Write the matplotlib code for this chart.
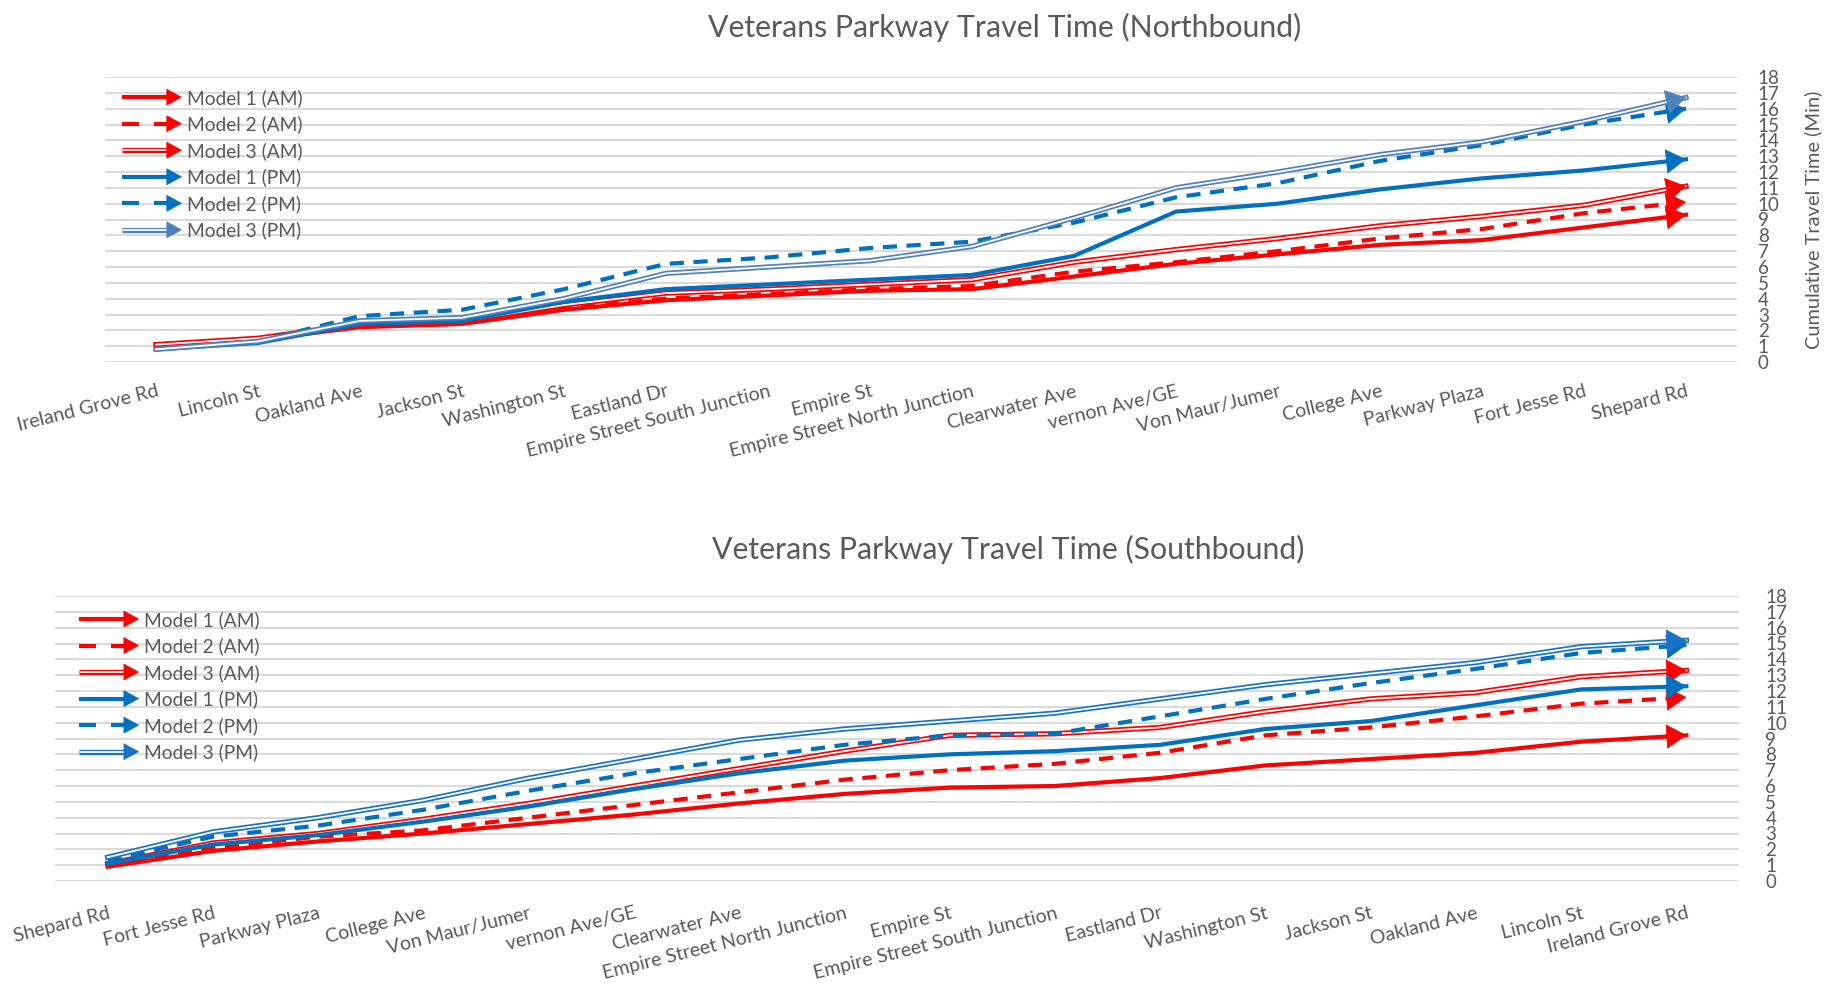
import matplotlib
matplotlib.use('Agg')
import matplotlib.pyplot as plt
from matplotlib.lines import Line2D
from matplotlib.patches import Polygon
from matplotlib.legend_handler import HandlerBase

plt.rcParams['font.family'] = ['Lato', 'DejaVu Sans']

RED = '#ff0000'
BLUE = '#0070c0'
TEXT = '#595959'
GRID = '#d9d9d9'

# Northbound: cumulative travel time (min) at each stop
nb_stops = ['Ireland Grove Rd', 'Lincoln St', 'Oakland Ave', 'Jackson St', 'Washington St',
            'Eastland Dr', 'Empire Street South Junction', 'Empire St',
            'Empire Street North Junction', 'Clearwater Ave', 'vernon Ave/GE',
            'Von Maur/Jumer', 'College Ave', 'Parkway Plaza', 'Fort Jesse Rd', 'Shepard Rd']
nb_m1_am = [1.0, 1.4, 2.2, 2.4, 3.3, 3.9, 4.2, 4.5, 4.6, 5.4, 6.2, 6.8, 7.4, 7.7, 8.5, 9.3]
nb_m2_am = [1.0, 1.4, 2.3, 2.5, 3.4, 4.0, 4.3, 4.6, 4.8, 5.7, 6.3, 7.0, 7.8, 8.4, 9.4, 10.1]
nb_m3_am = [1.1, 1.5, 2.4, 2.6, 3.6, 4.35, 4.6, 4.9, 5.2, 6.3, 7.1, 7.8, 8.6, 9.2, 9.9, 11.1]
nb_m1_pm = [0.8, 1.2, 2.4, 2.6, 3.8, 4.6, 4.9, 5.2, 5.5, 6.7, 9.5, 10.0, 10.9, 11.6, 12.1, 12.8]
nb_m2_pm = [0.8, 1.3, 2.9, 3.3, 4.6, 6.2, 6.6, 7.2, 7.6, 8.8, 10.4, 11.3, 12.7, 13.7, 15.0, 16.0]
nb_m3_pm = [0.8, 1.3, 2.6, 2.8, 4.0, 5.6, 6.0, 6.4, 7.3, 9.1, 11.0, 12.0, 13.1, 13.9, 15.2, 16.7]

# Southbound
sb_stops = ['Shepard Rd', 'Fort Jesse Rd', 'Parkway Plaza', 'College Ave', 'Von Maur/Jumer',
            'vernon Ave/GE', 'Clearwater Ave', 'Empire Street North Junction', 'Empire St',
            'Empire Street South Junction', 'Eastland Dr', 'Washington St', 'Jackson St',
            'Oakland Ave', 'Lincoln St', 'Ireland Grove Rd']
sb_m1_am = [0.9, 1.9, 2.5, 3.0, 3.6, 4.2, 4.9, 5.5, 5.9, 6.0, 6.5, 7.3, 7.7, 8.1, 8.8, 9.2]
sb_m2_am = [1.0, 2.1, 2.8, 3.2, 4.0, 4.8, 5.6, 6.4, 7.0, 7.4, 8.1, 9.2, 9.7, 10.4, 11.2, 11.6]
sb_m3_am = [1.1, 2.4, 3.0, 3.9, 4.9, 6.0, 7.1, 8.2, 9.2, 9.3, 9.7, 10.7, 11.5, 11.9, 12.9, 13.3]
sb_m1_pm = [1.1, 2.3, 2.9, 3.75, 4.7, 5.8, 6.8, 7.6, 8.0, 8.2, 8.6, 9.6, 10.1, 11.1, 12.1, 12.3]
sb_m2_pm = [1.3, 2.8, 3.5, 4.5, 5.7, 6.8, 7.7, 8.6, 9.2, 9.3, 10.4, 11.5, 12.5, 13.4, 14.4, 14.9]
sb_m3_pm = [1.5, 3.1, 4.0, 5.1, 6.5, 7.7, 8.9, 9.6, 10.1, 10.6, 11.5, 12.4, 13.1, 13.8, 14.8, 15.2]

labels = ['Model 1 (AM)', 'Model 2 (AM)', 'Model 3 (AM)',
          'Model 1 (PM)', 'Model 2 (PM)', 'Model 3 (PM)']
kinds = ['solid', 'dashed', 'double', 'solid', 'dashed', 'double']

LW = 3.0


class ArrowHandler(HandlerBase):
    """Legend key: line (solid / dashed / double) ending in a triangle head."""
    def create_artists(self, legend, orig_handle, xdescent, ydescent,
                       width, height, fontsize, trans):
        color = orig_handle.get_color()
        kind = orig_handle.get_gid()
        y = (height - ydescent) / 2
        x0 = -xdescent
        x1 = width - xdescent
        hl, hw = 10.5, 11.5
        xs = x1 - hl
        arts = []
        if kind == 'dashed':
            arts.append(Line2D([x0, x0 + 0.38 * (xs - x0)], [y, y], color=color, lw=LW,
                               solid_capstyle='butt'))
            arts.append(Line2D([x0 + 0.72 * (xs - x0), xs + 1], [y, y], color=color, lw=LW,
                               solid_capstyle='butt'))
        elif kind == 'double':
            arts.append(Line2D([x0, xs + 1], [y, y], color=color, lw=LW + 0.8,
                               solid_capstyle='butt'))
            arts.append(Line2D([x0 + 0.8, xs], [y, y], color='white', lw=1.3,
                               solid_capstyle='butt'))
        else:
            arts.append(Line2D([x0, xs + 1], [y, y], color=color, lw=LW,
                               solid_capstyle='butt'))
        arts.append(Polygon([[xs, y - hw / 2], [x1, y], [xs, y + hw / 2]], closed=True,
                            fc=color, ec=color, lw=0.5))
        for a in arts:
            a.set_transform(trans)
        return arts


def draw_series(ax, y, color, kind, z):
    x = list(range(len(y)))
    if kind == 'double':
        ax.plot(x, y, color=color, lw=LW + 0.8, solid_joinstyle='round', zorder=z)
        ax.plot(x, y, color='white', lw=1.3, solid_joinstyle='round', zorder=z + 0.1)
    elif kind == 'dashed':
        ax.plot(x, y, color=color, lw=LW, linestyle=(0, (3.4, 2.3)), zorder=z)
    else:
        ax.plot(x, y, color=color, lw=LW, solid_joinstyle='round', zorder=z)
    n = len(y) - 1
    t = 0.12
    ax.annotate('', xy=(n, y[n]), xytext=(n - t, y[n] - t * (y[n] - y[n - 1])),
                arrowprops=dict(arrowstyle='-|>,head_length=0.65,head_width=0.4',
                                mutation_scale=21, color=color, lw=0.5,
                                shrinkA=0, shrinkB=0),
                zorder=z + 0.2)


def make_panel(fig, rect, stops, series, colors, title, title_xy, leg_anchor,
               tick_pad, xlab_pad, ylabel_x):
    ax = fig.add_axes(rect)
    for i, (vals, col, kind) in enumerate(zip(series, colors, kinds)):
        draw_series(ax, vals, col, kind, 3 + i)

    ax.set_xlim(-0.5, len(stops) - 0.5)
    ax.set_ylim(0, 18)
    ax.set_yticks(range(0, 19))
    ax.yaxis.tick_right()
    ax.tick_params(axis='y', length=0, pad=tick_pad, labelsize=13.5, labelcolor=TEXT)
    ax.set_xticks(range(len(stops)))
    ax.set_xticklabels(stops, rotation=14, ha='right', va='top', rotation_mode='anchor',
                       fontsize=14, color=TEXT)
    ax.tick_params(axis='x', length=0, pad=xlab_pad)
    ax.grid(axis='y', color=GRID, lw=1.4)
    ax.set_axisbelow(True)
    for s in ax.spines.values():
        s.set_visible(False)

    ax.set_ylabel('Cumulative Travel Time (Min)', fontsize=14.4, color=TEXT)
    ax.yaxis.set_label_position('right')
    ax.yaxis.set_label_coords(ylabel_x, 0.5)

    handles = [Line2D([], [], color=c, gid=k) for c, k in zip(colors, kinds)]
    ax.legend(handles, labels, handler_map={Line2D: ArrowHandler()},
              loc='upper left', bbox_to_anchor=leg_anchor, frameon=False,
              fontsize=13.8, labelcolor=TEXT, handlelength=3.1, handletextpad=0.3,
              labelspacing=0.45, borderpad=0, borderaxespad=0)

    fig.text(title_xy[0], title_xy[1], title, ha='center', va='center',
             fontsize=21.8, color=TEXT)
    return ax


fig = plt.figure(figsize=(18.25, 9.85), dpi=100)
W, H = 1825, 985

make_panel(fig, [105 / W, (H - 362) / H, 1632 / W, 285 / H], nb_stops,
           [nb_m1_am, nb_m2_am, nb_m3_am, nb_m1_pm, nb_m2_pm, nb_m3_pm],
           [RED, RED, RED, BLUE, BLUE, '#4f81bd'],
           'Veterans Parkway Travel Time (Northbound)', (1005 / W, 1 - 27 / H),
           (0.0104, 0.958), 15, 15, 1.041)

make_panel(fig, [55 / W, (H - 881) / H, 1684 / W, 285 / H], sb_stops,
           [sb_m1_am, sb_m2_am, sb_m3_am, sb_m1_pm, sb_m2_pm, sb_m3_pm],
           [RED, RED, RED, BLUE, BLUE, '#1a73c4'],
           'Veterans Parkway Travel Time (Southbound)', (1008 / W, 1 - 549 / H),
           (0.0143, 0.948), 19, 17, 1.052)

fig.savefig('out.png', dpi=100)
